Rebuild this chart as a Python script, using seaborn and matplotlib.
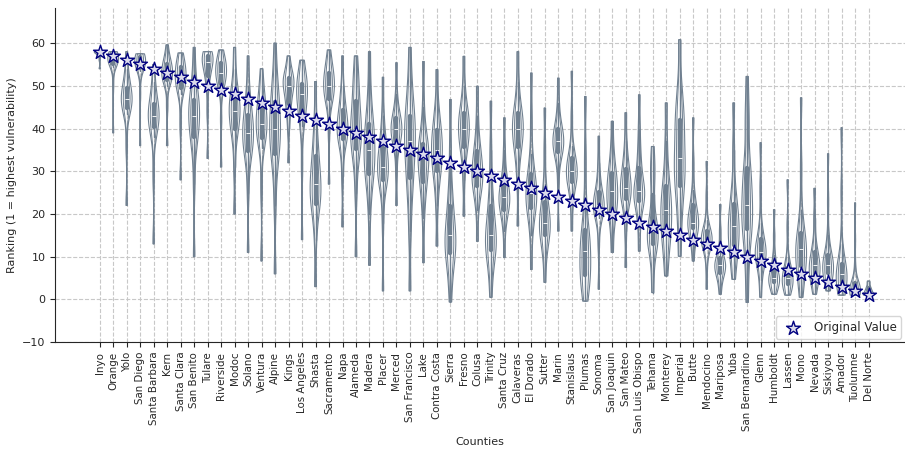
import numpy as np
import pandas as pd
import matplotlib
matplotlib.use("Agg")
import matplotlib.pyplot as plt
import seaborn as sns

# counties in order of the original ranking (58 = lowest vulnerability ... 1 = highest)
counties = [
    "Inyo", "Orange", "Yolo", "San Diego", "Santa Barbara", "Kern", "Santa Clara",
    "San Benito", "Tulare", "Riverside", "Modoc", "Solano", "Ventura", "Alpine",
    "Kings", "Los Angeles", "Shasta", "Sacramento", "Napa", "Alameda", "Madera",
    "Placer", "Merced", "San Francisco", "Lake", "Contra Costa", "Sierra", "Fresno",
    "Colusa", "Trinity", "Santa Cruz", "Calaveras", "El Dorado", "Sutter", "Marin",
    "Stanislaus", "Plumas", "Sonoma", "San Joaquin", "San Mateo", "San Luis Obispo",
    "Tehama", "Monterey", "Imperial", "Butte", "Mendocino", "Mariposa", "Yuba",
    "San Bernardino", "Glenn", "Humboldt", "Lassen", "Mono", "Nevada", "Siskiyou",
    "Amador", "Tuolumne", "Del Norte",
]
original_rank = [
    58, 57, 56, 55, 54, 53, 52, 51, 50, 49, 48, 47, 46, 45, 44, 43, 42, 41, 40, 39,
    38, 37, 36, 35, 34, 33, 32, 31, 30, 29, 28, 27, 26, 25, 24, 23, 22, 21, 20, 19,
    18, 17, 16, 15, 14, 13, 12, 11, 10, 9, 8, 7, 6, 5, 4, 3, 2, 1,
]

# rankings under the sensitivity runs
rank_samples = [
    [54, 56, 57, 57.2, 57.4, 57.6, 57.8, 58, 58, 58, 58, 58, 58, 58, 58],
    [39, 50, 54.5, 55, 55.3, 55.6, 56, 56.3, 56.5, 56.8, 57, 57.2, 57.4, 57.7, 58],
    [22, 36, 43.5, 44.5, 45, 46, 46.5, 47, 47.5, 48, 49, 50, 51.5, 54, 58],
    [36, 48, 53.5, 54, 54.5, 55, 55.3, 55.5, 55.8, 56.2, 56.5, 57, 57.2, 57.3, 57.5],
    [13, 29, 38, 39.5, 41, 42, 42.5, 43, 43.5, 44, 45, 46.5, 48, 51, 55],
    [36, 45, 50, 51, 51.5, 52, 52.5, 53, 53.5, 54, 54.5, 55.5, 56, 57, 59.6],
    [28, 41, 48, 49, 50, 50.5, 51.5, 52, 52.5, 53, 54, 55, 55.5, 56.5, 57.7],
    [10, 27, 35.5, 37, 39, 40.5, 42, 43, 44, 45, 46, 47.5, 49, 53, 59],
    [33, 44, 50, 51.5, 53, 54, 55, 55.5, 56, 56.5, 57, 57, 57.3, 57.6, 58],
    [31, 42, 49, 50, 51, 52, 52.5, 53, 53.5, 54, 55, 55.5, 56, 57, 58.4],
    [20, 31, 37.5, 39, 41, 42, 43, 44, 45, 46, 47, 48, 50, 54, 59],
    [11, 25, 32.5, 34, 35.5, 37, 38, 39, 40, 41, 42.5, 44, 46, 50, 57],
    [9, 26, 35.5, 37, 38.5, 39.5, 40.5, 41, 42, 43, 44.5, 46, 47.5, 50, 54],
    [6, 22, 30.5, 33, 35, 37, 39, 40, 41.5, 43, 45, 47.5, 49.5, 53, 60],
    [32, 40, 43.5, 45, 46.5, 48, 49, 50, 50.5, 51, 51.5, 52, 53, 54.5, 57],
    [14, 31, 40.5, 42, 44, 45.5, 47, 48, 48.5, 49.5, 50, 51, 52, 53.5, 56],
    [3, 14, 20.5, 21.5, 23, 24.5, 26, 27, 28.5, 30, 32, 35, 37, 42, 51],
    [27, 39, 45, 46.5, 47.5, 48.5, 49.5, 50, 50.5, 51.5, 52.5, 53.5, 54.5, 56, 58.4],
    [17, 29, 35.5, 37, 38, 39, 40, 40, 41, 42, 43.5, 45, 47, 50, 57],
    [10, 25, 32.5, 34.5, 36, 37.5, 39, 40, 41.5, 43, 45, 48, 50, 53, 57],
    [8, 20, 26.5, 28.5, 30, 32, 33.5, 35, 36.5, 38, 40, 42, 44.5, 50, 58],
    [2, 18, 26.5, 27.5, 28.5, 29.5, 30.5, 31, 32, 33, 34.5, 36.5, 38.5, 43, 52],
    [22, 30, 35.5, 36.5, 37.5, 38.5, 39.5, 40, 40.5, 41, 42, 43, 44.5, 48, 55.4],
    [2, 16, 23.5, 27, 30, 32.5, 35, 37, 38.5, 40, 42, 44, 47, 51, 59],
    [8.6, 19, 24.5, 26.5, 28.5, 30, 31.5, 33, 34, 35, 36, 36.7, 39, 45, 55.7],
    [12.5, 22, 27.5, 29, 31, 32.5, 34, 35, 36, 37.5, 39, 40.5, 42.5, 46, 53.8],
    [-0.6, 5, 8.5, 10, 11.5, 12.5, 14, 15, 16.5, 18, 20.5, 23.4, 27, 35, 46.8],
    [19.5, 28, 33.5, 35, 36.5, 38, 39, 40, 41, 42, 43, 44.4, 46, 50, 56.9],
    [13.6, 21, 24.5, 26, 27, 28, 29, 30, 31, 32.5, 34, 35.5, 38, 43, 49.9],
    [0.5, 6, 9.5, 11, 12, 13, 14, 15, 16.5, 18, 20.5, 23.4, 27, 35, 46.4],
    [9.8, 16, 19.5, 20.5, 21.5, 22.5, 23.5, 24, 24.5, 25.5, 26.5, 28, 30.5, 35, 42.5],
    [17.2, 28, 33, 35, 36.5, 38, 39, 40, 41, 42, 43, 44.4, 46.5, 51, 58],
    [7, 15, 19.5, 21, 22, 23, 24, 25, 26, 27, 28.5, 30.4, 34, 42, 53],
    [4, 10, 13, 14.5, 15.5, 16.5, 17.5, 18, 19, 20, 22, 23.8, 27, 35, 44.8],
    [16, 27, 33, 34, 35, 35.8, 36.5, 37, 37.5, 38.5, 39.5, 40.2, 42, 46, 51.8],
    [16, 22, 26, 27, 28, 28.8, 29.5, 30, 30.5, 31.5, 32.5, 33.5, 36, 43, 53.4],
    [-0.4, 2.5, 4, 5, 6.5, 8, 9.5, 11.3, 12.5, 14, 15.5, 17.2, 23, 33, 47.5],
    [2.4, 13, 19, 20, 20.8, 21.3, 21.7, 22, 22.5, 23.5, 24.5, 25.7, 28, 32, 38.2],
    [11, 16, 19, 20.5, 22, 23, 24, 25.3, 26.5, 27.5, 29, 30.4, 32.5, 36, 41.7],
    [7.5, 16, 21.5, 23, 24, 25, 25.5, 26, 27, 28.5, 30, 31, 33, 37, 43.7],
    [11.3, 17, 21.5, 22.5, 23.5, 24.2, 25, 25.3, 26, 27.5, 29.5, 32, 35, 40, 47.9],
    [1.6, 7, 11.5, 12.5, 13.5, 14.5, 15.2, 16, 17, 18.5, 22, 27, 29.5, 32, 35.8],
    [5.5, 9.5, 13, 14.5, 16, 17.5, 19.5, 21, 22, 23.5, 25.5, 27.7, 31, 37, 46],
    [10.1, 17, 22.5, 25, 28, 30, 31.5, 33, 36, 39, 41, 43, 46, 50, 60.8],
    [9, 13, 15.5, 16.3, 17, 17.3, 17.7, 18, 19, 20, 21.5, 22.7, 25.5, 32, 42.5],
    [2.4, 8, 12, 12.8, 13.2, 13.5, 13.8, 14, 14.5, 15, 15.7, 16.3, 18.5, 24, 32.3],
    [1.2, 3.5, 5.2, 6, 6.5, 7, 7.5, 8, 8.5, 9, 9.5, 10, 12, 16, 22.2],
    [4.7, 8, 10.5, 12, 13.5, 14.8, 16, 17.2, 18.5, 20, 21.5, 23.4, 27, 35, 46],
    [-0.7, 7, 13, 15.5, 17.5, 19.5, 21, 22, 25, 28, 30, 31.6, 40.5, 43.5, 52.2],
    [0.5, 4.5, 8.3, 9.2, 9.8, 10.3, 10.7, 11, 11.5, 12.5, 13.5, 14.8, 18, 26, 36.7],
    [1.2, 2, 3, 3.8, 4.2, 4.5, 4.8, 5, 5.5, 6.2, 7.3, 8.6, 10.5, 15, 21],
    [1, 2, 3, 3.4, 3.8, 4.2, 4.6, 5, 5.5, 6, 7, 7.8, 10, 17, 28],
    [0.5, 3, 6, 7.3, 8.5, 9.7, 10.8, 11.7, 12.5, 13.5, 15, 16.3, 21, 31, 47.2],
    [1.2, 3, 4.5, 5.2, 5.9, 6.6, 7.3, 8, 8.7, 9.5, 10.5, 11.7, 14, 19, 26],
    [2, 3.5, 5.2, 5.9, 6.5, 7, 7.5, 8, 8.5, 9.2, 10, 11, 15, 23, 34.1],
    [1, 2, 3, 3.6, 4.2, 4.8, 5.4, 6, 6.5, 7.2, 8, 8.6, 13, 25, 40.2],
    [1, 1, 1.2, 1.5, 1.7, 2, 2, 2.2, 2.5, 3, 3.5, 4, 8, 14, 22.6],
    [1, 1, 1, 1, 1.2, 1.4, 1.6, 1.8, 2, 2.2, 2.5, 2.8, 3.2, 3.8, 4.3],
]

long_df = pd.DataFrame(
    [(c, v) for c, vals in zip(counties, rank_samples) for v in vals],
    columns=["County", "Rank"],
)
orig_df = pd.DataFrame({"County": counties, "Rank": original_rank})

sns.set_style("ticks")
plt.rcParams["font.family"] = ["DejaVu Sans"]

fig = plt.figure(figsize=(9.05, 4.49), dpi=100)
ax = fig.add_axes([0.061, 0.238, 0.939, 0.744])

violin_color = "#708090"
sns.violinplot(data=long_df, x="County", y="Rank", order=counties, color=violin_color,
               fill=False, density_norm="width", width=0.8, cut=0, bw_adjust=0.6,
               linewidth=0.8, inner="box",
               inner_kws=dict(box_width=3.2, whis_width=1.0), ax=ax)
sns.violinplot(data=long_df, x="County", y="Rank", order=counties, color=violin_color,
               fill=False, density_norm="width", width=0.5, cut=0, bw_adjust=0.6,
               linewidth=0.7, inner=None, ax=ax)

sns.stripplot(data=orig_df, x="County", y="Rank", order=counties, jitter=False,
              marker="*", size=10.5, color="#dcdcec", edgecolor="navy", linewidth=1.0,
              label="Original Value", zorder=5, ax=ax)

handles, labels = ax.get_legend_handles_labels()
ax.legend(handles[:1], labels[:1], loc="lower right", fontsize=8.5, frameon=True,
          borderaxespad=0.3)

ax.set_xlim(-3.3, 59.7)
ax.set_ylim(-10, 68.2)
ax.set_yticks([-10, 0, 10, 20, 30, 40, 50, 60])
ax.grid(True, linestyle="--", color="#c8c8c8", linewidth=0.8)
ax.set_axisbelow(True)
ax.tick_params(axis="x", rotation=90, labelsize=7.4)
ax.tick_params(axis="y", labelsize=8)
ax.set_xlabel("Counties", fontsize=8)
ax.xaxis.set_label_coords(0.5, -0.283)
ax.set_ylabel("Ranking (1 = highest vulnerability)", fontsize=8)
sns.despine(ax=ax)

fig.savefig("out.png", dpi=100)
